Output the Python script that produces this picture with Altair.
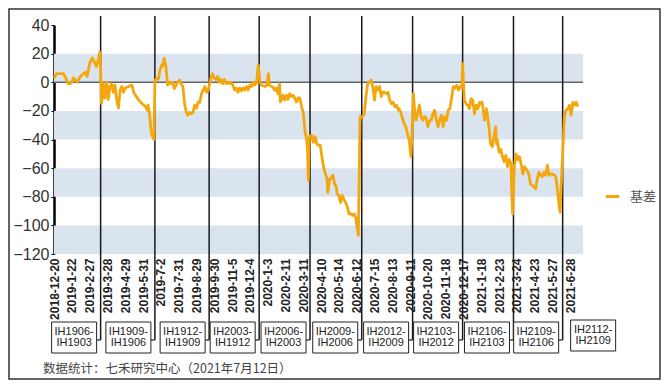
import altair as alt
import pandas as pd

# trading-day index since 2018-12-20 and basis value (IH main contract)
day = [0, 3, 7, 11, 13, 17, 19, 21, 23, 27, 31, 35, 37, 39, 42, 45, 48, 50, 52, 54,
       55, 56, 58, 60, 62, 64, 66, 68, 70, 72, 74, 76, 78, 80, 82, 84, 88, 92, 94, 96,
       100, 104, 108, 110, 111, 113, 115, 117, 118, 119, 121, 123, 125, 127, 128, 130, 132, 134, 136, 138,
       140, 142, 144, 146, 148, 150, 152, 154, 156, 158, 160, 162, 164, 166, 168, 170, 172, 174, 176, 178,
       180, 182, 184, 185, 187, 189, 191, 193, 195, 197, 199, 201, 203, 205, 207, 209, 211, 213, 215, 217,
       219, 221, 223, 225, 227, 229, 231, 233, 235, 237, 239, 241, 243, 245, 249, 251, 253, 254, 257, 259,
       260, 262, 264, 266, 267, 270, 272, 274, 276, 278, 280, 282, 284, 286, 288, 290, 292, 294, 296, 298,
       299, 300, 301, 304, 306, 308, 310, 312, 314, 316, 318, 320, 322, 323, 325, 327, 329, 331, 333, 334,
       336, 338, 340, 342, 344, 346, 348, 350, 352, 354, 356, 357, 358, 359, 361, 362, 364, 366, 368, 370,
       372, 374, 376, 378, 380, 382, 384, 386, 388, 390, 392, 394, 396, 398, 400, 402, 404, 406, 407, 409,
       411, 413, 415, 417, 419, 421, 422, 424, 425, 427, 429, 431, 433, 435, 437, 439, 441, 443, 445, 447,
       449, 451, 453, 455, 457, 459, 461, 463, 465, 467, 469, 471, 473, 475, 477, 479, 481, 482, 483, 484,
       486, 488, 490, 492, 494, 496, 498, 500, 502, 504, 505, 508, 510, 511, 513, 515, 517, 519, 521, 522,
       523, 525, 527, 529, 531, 533, 535, 537, 539, 540, 541, 543, 545, 547, 549, 551, 553, 555, 556, 558,
       560, 562, 564, 566, 568, 570, 572, 574, 576, 578, 580, 582, 584, 586, 588, 590, 592, 594, 596, 597,
       598, 600, 602, 604, 606, 608, 610, 612, 614, 616, 618]
basis = [2.7, 6, 6, 6, 4, -1, -1, 0, 3, 0, 4, 6, 7, 4, 13, 17, 14, 11, 15, 21,
         9, -15, -1, -11, 0, -12, -3, -1, -7, -2, -12.5, -18, -5.5, -3, -7, -4, -3, -2, -7, -9,
         -12.5, -15, -17, -19.5, -16, -24, -36, -39, -40, 1, 2.7, 2, 8.5, 12, 11, 16.7, 11, -2, 0, -1,
         0, -4.4, -2, 0, 1.5, -1, -3, -15, -21, -23, -21, -22, -21, -16, -18, -13.7, -14, -8, -5.5, -3,
         -7, -5.5, 0, 3, 6, 3, 2, 4, 0, 2, -1, 2, -1, 0, -1, 0, -2, -5.5, -4, -7,
         -4, -6, -4, -5.5, -3, -5.5, -2, -3, 0, -2, 0, 12, 0, -2, -3, -2, 6, -2, -3, -4,
         -5.5, -4, -8, -1, -13.7, -9, -12.5, -9, -12, -8, -10, -9, -11, -13.7, -11, -11, -17, -21, -33.5, -40.5,
         -46, -68.5, -38, -37, -42, -38, -43, -44, -44, -52, -59, -64, -67, -77, -68, -67, -65, -71, -73, -78,
         -79, -84, -79, -82, -84, -87, -92, -92, -93, -92, -94.5, -99, -103.5, -107, -24, -25, -24, -22, -10, -1,
         0, 1.5, -3, -12.5, -3, -5.5, -3, -10, -7, -7, -8, -7, -12.5, -15, -14, -17, -16, -19.5, -18.5, -21,
         -25, -29, -31, -36, -40.5, -52, -40.5, -8, -17, -26.5, -22, -16, -24, -26.5, -24, -25, -31, -27, -26.5, -22,
         -19.5, -26.5, -31, -26.5, -23, -31, -24, -26.5, -19.5, -18.5, -11, -3, -4, -2, -5.5, -3, -4, 13, 0, -12.5,
         -15, -16, -18.5, -11.5, -12.5, -22, -16, -18.5, -14, -15, -14, -26.5, -18.5, -22, -31, -43, -45, -38, -31, -43,
         -40, -49, -47, -52, -55.5, -51, -59, -54, -57, -78, -92, -59, -50, -54, -52, -57, -64, -59, -60, -61.5,
         -64, -71, -72, -73, -74.5, -68, -63, -65, -66, -63, -65, -58, -65, -64, -64, -65, -66, -75.5, -87, -90.7,
         -75.5, -50, -24, -19.5, -18.5, -16, -23, -14, -16, -14, -17]

tick_labels = ["2018-12-20", "2019-1-22", "2019-2-27", "2019-3-28", "2019-4-29", "2019-5-31",
               "2019-7-2", "2019-7-31", "2019-8-29", "2019-9-30", "2019-11-5", "2019-12-4",
               "2020-1-3", "2020-2-11", "2020-3-11", "2020-4-10", "2020-5-14", "2020-6-12",
               "2020-7-15", "2020-8-13", "2020-9-11", "2020-10-20", "2020-11-18", "2020-12-17",
               "2021-1-18", "2021-2-23", "2021-3-24", "2021-4-23", "2021-5-27", "2021-6-28"]
tick_step = 21

roll_days = [55, 119, 183, 242, 302, 363, 423, 482, 542, 600]
contracts = ["IH1906-\nIH1903", "IH1909-\nIH1906", "IH1912-\nIH1909", "IH2003-\nIH1912",
             "IH2006-\nIH2003", "IH2009-\nIH2006", "IH2012-\nIH2009", "IH2103-\nIH2012",
             "IH2106-\nIH2103", "IH2109-\nIH2106", "IH2112-\nIH2109"]

band_lo = [0, -40, -80, -120]
band_hi = [20, -20, -60, -100]

series_name = "基差"
footer = "数据统计：七禾研究中心（2021年7月12日）"

W, H = 529, 229
ORANGE = "#F4A70C"
FONT = "Liberation Sans"
CJK = "Noto Sans CJK SC"

line_df = pd.DataFrame({"day": day, "basis": basis, "series": series_name})
band_df = pd.DataFrame({"lo": band_lo, "hi": band_hi})
roll_df = pd.DataFrame({"day": roll_days})
box_df = pd.DataFrame({"day": roll_days, "label": contracts[:10]})
last_df = pd.DataFrame({"day": [roll_days[-1]], "label": [contracts[-1]]})

xscale = alt.Scale(domain=[0, 624], nice=False, zero=False)
yscale = alt.Scale(domain=[-120, 40], nice=False, zero=False)

label_arr = "[" + ",".join("'%s'" % s for s in tick_labels) + "]"
x_axis = alt.Axis(values=[i * tick_step for i in range(len(tick_labels))],
                  labelExpr=label_arr + "[round(datum.value/%d)]" % tick_step,
                  labelAngle=270, domain=False, ticks=False, grid=False,
                  labelFontSize=12, labelFont=FONT, labelFontWeight="bold",
                  labelColor="#222", labelPadding=4, title=None,
                  labelOverlap=False, labelBound=False, labelFlush=False)
y_axis = alt.Axis(values=list(range(-120, 41, 20)), domain=True, domainColor="#000",
                  domainWidth=2.5, ticks=True, tickSize=3, tickColor="#000",
                  labelFontSize=16, labelFont=FONT, labelColor="#333",
                  labelPadding=2, grid=False, title=None)

bands = alt.Chart(band_df).mark_rect(color="#DAE4EF").encode(
    x=alt.value(0), x2=alt.value(W),
    y=alt.Y("lo:Q", scale=yscale, axis=y_axis), y2="hi:Q")

zero = alt.Chart(pd.DataFrame({"z": [0]})).mark_rule(color="#666", strokeWidth=1.5).encode(
    y=alt.Y("z:Q", scale=yscale, axis=y_axis), x=alt.value(0), x2=alt.value(W))

rolls = alt.Chart(roll_df).mark_rule(color="#1a1a1a", strokeWidth=1.5).encode(
    x=alt.X("day:Q", scale=xscale, axis=x_axis), y=alt.value(-9), y2=alt.value(315))

connectors = alt.Chart(roll_df).mark_rule(color="#1a1a1a", strokeWidth=1.2, xOffset=-4).encode(
    x=alt.X("day:Q", scale=xscale, axis=x_axis), x2="day:Q", y=alt.value(315))

line = alt.Chart(line_df).mark_line(strokeWidth=2.8, strokeJoin="round").encode(
    x=alt.X("day:Q", scale=xscale, axis=x_axis),
    y=alt.Y("basis:Q", scale=yscale, axis=y_axis),
    color=alt.Color("series:N", scale=alt.Scale(range=[ORANGE]),
                    legend=alt.Legend(orient="none", legendX=550, legendY=163, title=None,
                                      symbolType="stroke", symbolSize=180,
                                      symbolStrokeWidth=3, labelFont=CJK,
                                      labelFontSize=13, labelColor="#555",
                                      labelOffset=9)))

boxes = alt.Chart(box_df).mark_rect(fill="white", stroke="#222", strokeWidth=1,
                                    xOffset=-49, x2Offset=-4).encode(
    x=alt.X("day:Q", scale=xscale, axis=x_axis), x2="day:Q",
    y=alt.value(297), y2=alt.value(328))
box_text = alt.Chart(box_df).mark_text(font=FONT, fontSize=11, color="#222",
                                       lineBreak="\n", lineHeight=11.5, xOffset=-26.5,
                                       baseline="middle").encode(
    x=alt.X("day:Q", scale=xscale, axis=x_axis), y=alt.value(306.5), text="label:N")

last_box = alt.Chart(last_df).mark_rect(fill="white", stroke="#222", strokeWidth=1,
                                        xOffset=8, x2Offset=53).encode(
    x=alt.X("day:Q", scale=xscale, axis=x_axis), x2="day:Q",
    y=alt.value(295), y2=alt.value(326))
last_text = alt.Chart(last_df).mark_text(font=FONT, fontSize=11, color="#222",
                                         lineBreak="\n", lineHeight=11.5, xOffset=30.5,
                                         baseline="middle").encode(
    x=alt.X("day:Q", scale=xscale, axis=x_axis), y=alt.value(304.5), text="label:N")

foot = alt.Chart(pd.DataFrame({"t": [footer]})).mark_text(
    font=CJK, fontSize=12.5, color="#444", align="left", baseline="middle").encode(
    x=alt.value(-11), y=alt.value(344), text="t:N")

frame = alt.Chart(pd.DataFrame({"a": [0]})).mark_rect(
    filled=False, stroke="#333", strokeWidth=1.5).encode(
    x=alt.value(-45), x2=alt.value(606), y=alt.value(-16), y2=alt.value(354))

chart = alt.layer(bands, zero, rolls, connectors, line, boxes, box_text,
                  last_box, last_text, foot, frame).properties(
    width=W, height=H,
    padding={"left": 46, "top": 17, "right": 78, "bottom": 126},
    autosize=alt.AutoSizeParams(type="none"),
    background="white",
).configure_view(stroke=None)

chart.save("out.html", embed_options={"renderer": "svg", "actions": False})
